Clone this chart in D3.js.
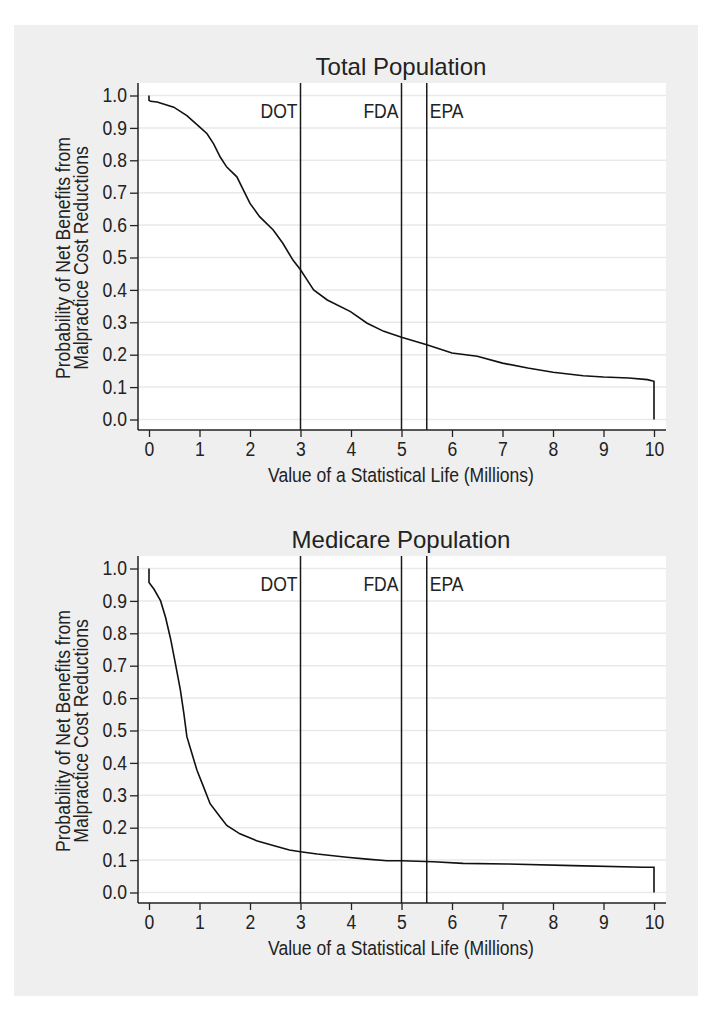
<!DOCTYPE html>
<html>
<head>
<meta charset="utf-8">
<script src="https://cdn.jsdelivr.net/npm/d3@7"></script>
<style>
  html, body { margin: 0; padding: 0; background: #ffffff; }
  svg { display: block; }
  text { font-family: "Liberation Sans", Arial, sans-serif; fill: #222; }
</style>
</head>
<body>
<svg id="chart" width="713" height="1012"></svg>
<script>
// ---- Data ----
const panelTitles = ["Total Population", "Medicare Population"];
const xTicks = [0, 1, 2, 3, 4, 5, 6, 7, 8, 9, 10];
const yTicks = [0.0, 0.1, 0.2, 0.3, 0.4, 0.5, 0.6, 0.7, 0.8, 0.9, 1.0];
const refNames = ["DOT", "FDA", "EPA"];
const refValues = [3, 5, 5.5];
const xTitle = "Value of a Statistical Life (Millions)";
const yTitle = ["Probability of Net Benefits from", "Malpractice Cost Reductions"];

const totalX = [0, 0, 0.03, 0.16, 0.49, 0.75, 1.0, 1.15, 1.28, 1.41, 1.54, 1.74, 1.87, 2.0, 2.19, 2.46, 2.65, 2.85, 3.0, 3.13, 3.26, 3.53, 3.99, 4.32, 4.65, 5.0, 5.5, 6.0, 6.5, 7.0, 7.5, 8.0, 8.6, 9.0, 9.5, 9.87, 10, 10];
const totalY = [1.0, 0.985, 0.982, 0.98, 0.964, 0.938, 0.903, 0.882, 0.851, 0.81, 0.779, 0.749, 0.708, 0.667, 0.626, 0.585, 0.544, 0.492, 0.462, 0.431, 0.40, 0.369, 0.333, 0.297, 0.272, 0.254, 0.231, 0.205, 0.195, 0.174, 0.159, 0.146, 0.135, 0.131, 0.128, 0.123, 0.118, 0.0];

const medicareX = [0, 0, 0.1, 0.23, 0.33, 0.43, 0.52, 0.62, 0.69, 0.75, 0.85, 0.95, 1.08, 1.21, 1.41, 1.54, 1.8, 2.13, 2.46, 2.78, 3.0, 3.33, 3.92, 4.32, 4.71, 5.0, 5.63, 6.22, 7.08, 8.4, 9.8, 10, 10];
const medicareY = [1.0, 0.957, 0.936, 0.90, 0.848, 0.781, 0.709, 0.626, 0.553, 0.481, 0.429, 0.377, 0.326, 0.274, 0.233, 0.207, 0.181, 0.16, 0.145, 0.131, 0.126, 0.119, 0.109, 0.103, 0.098, 0.098, 0.095, 0.09, 0.088, 0.083, 0.078, 0.078, 0.0];

const seriesX = [totalX, medicareX];
const seriesY = [totalY, medicareY];

// ---- Layout ----
const FS = "19.5px";      // axis text size
const SX = 0.9;           // horizontal condensing of axis text
const svg = d3.select("#chart");
svg.append("rect").attr("x", 14).attr("y", 25).attr("width", 684).attr("height", 971).attr("fill", "#efefef");

const x = d3.scaleLinear().domain([0, 10]).range([149, 654]);
const y = d3.scaleLinear().domain([0, 1]).range([419.5, 95.5]);
const plotLeft = 138, plotRight = 666, plotTop = 83, plotBottom = 430;
const offsets = [0, 473];

function label(g, tx, ty, anchor, str) {
  return g.append("text")
    .attr("transform", `translate(${tx},${ty}) scale(${SX},1)`)
    .attr("text-anchor", anchor).style("font-size", FS).text(str);
}

panelTitles.forEach((title, i) => {
  const g = svg.append("g").attr("transform", `translate(0,${offsets[i]})`);

  g.append("rect").attr("x", plotLeft).attr("y", plotTop)
    .attr("width", plotRight - plotLeft).attr("height", plotBottom - plotTop)
    .attr("fill", "#ffffff");

  // gridlines
  g.append("g").selectAll("line").data(yTicks).join("line")
    .attr("x1", plotLeft).attr("x2", plotRight)
    .attr("y1", d => y(d)).attr("y2", d => y(d))
    .attr("stroke", "#e9e9e9").attr("stroke-width", 1.5);

  // title
  g.append("text").attr("x", 401).attr("y", 75).attr("text-anchor", "middle")
    .style("font-size", "24px").text(title);

  // reference lines
  refValues.forEach((v, k) => {
    g.append("line").attr("x1", x(v)).attr("x2", x(v))
      .attr("y1", plotTop).attr("y2", plotBottom)
      .attr("stroke", "#1a1a1a").attr("stroke-width", 1.5);
    const right = k === 2;
    label(g, right ? x(v) + 3 : x(v) - 3, 118, right ? "start" : "end", refNames[k]);
  });

  // curve
  const pts = seriesX[i].map((xv, j) => [xv, seriesY[i][j]]);
  g.append("path").datum(pts)
    .attr("fill", "none").attr("stroke", "#111").attr("stroke-width", 1.6)
    .attr("stroke-linejoin", "miter")
    .attr("d", d3.line().x(d => x(d[0])).y(d => y(d[1])).curve(d3.curveLinear));

  // y axis
  const yAxis = g.append("g").attr("transform", `translate(${plotLeft},0)`)
    .call(d3.axisLeft(y).tickValues(yTicks).tickFormat(d3.format(".1f")).tickSize(8).tickSizeOuter(0).tickPadding(3));
  yAxis.select(".domain").attr("d", `M0,${plotTop}V${plotBottom}`).attr("stroke", "#222").attr("stroke-width", 1.5);
  yAxis.selectAll(".tick line").attr("stroke", "#222").attr("stroke-width", 1.3);
  yAxis.selectAll(".tick text").style("font-size", FS).attr("fill", "#222")
    .style("font-family", '"Liberation Sans", Arial, sans-serif')
    .attr("x", null)
    .attr("transform", `translate(-11,0) scale(${SX},1)`);

  // x axis
  const xAxis = g.append("g").attr("transform", `translate(0,${plotBottom})`)
    .call(d3.axisBottom(x).tickValues(xTicks).tickFormat(d3.format("d")).tickSize(7).tickSizeOuter(0).tickPadding(5));
  xAxis.select(".domain").attr("d", `M${plotLeft},0H${plotRight}`).attr("stroke", "#222").attr("stroke-width", 1.5);
  xAxis.selectAll(".tick line").attr("stroke", "#222").attr("stroke-width", 1.3);
  xAxis.selectAll(".tick text").style("font-size", FS).attr("fill", "#222")
    .style("font-family", '"Liberation Sans", Arial, sans-serif')
    .attr("transform", `scale(${SX},1)`);

  // axis titles
  label(g, 401, 481.5, "middle", xTitle);

  const yt = g.append("text").attr("transform", `translate(70,258) rotate(-90) scale(${SX},1)`)
    .attr("text-anchor", "middle").style("font-size", FS);
  yt.append("tspan").attr("x", 0).attr("dy", 0).text(yTitle[0]);
  yt.append("tspan").attr("x", 0).attr("dy", 18).text(yTitle[1]);
});
</script>
</body>
</html>
